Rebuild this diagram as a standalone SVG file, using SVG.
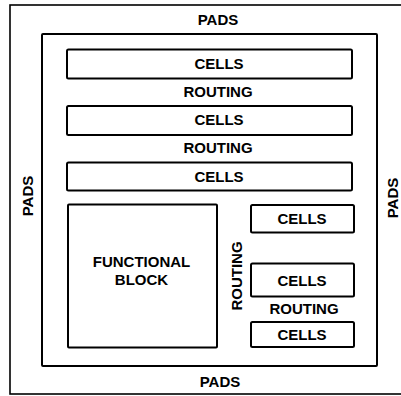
<svg xmlns="http://www.w3.org/2000/svg" width="401" height="396" viewBox="0 0 401 396">
<style>
.box{fill:none;stroke:#000;stroke-width:2}
.outer{fill:none;stroke:#000;stroke-width:1.6}
text{font-family:"Liberation Sans",Arial,sans-serif;font-weight:bold;font-size:15px;fill:#000;text-anchor:middle}
</style>
<rect width="401" height="396" fill="#fff"/>
<g id="chip">
<rect class="outer" x="10" y="5" width="395" height="389"/>
<text x="218" y="25">PADS</text>
<text x="220" y="386.5">PADS</text>
<text transform="translate(33,196) rotate(-90)">PADS</text>
<text transform="translate(398,198) rotate(-90)">PADS</text>
</g>
<g id="core">
<rect class="box" x="42" y="34" width="335" height="332" rx="1"/>
</g>
<g id="cells1">
<rect class="box" x="67" y="49.5" width="285" height="29" rx="1.5"/>
<text x="219" y="69">CELLS</text>
</g>
<text id="routing1" x="218" y="97">ROUTING</text>
<g id="cells2">
<rect class="box" x="67" y="106" width="285" height="29" rx="1.5"/>
<text x="219" y="125">CELLS</text>
</g>
<text id="routing2" x="218" y="153">ROUTING</text>
<g id="cells3">
<rect class="box" x="67" y="162.5" width="285" height="28" rx="1.5"/>
<text x="219" y="181.5">CELLS</text>
</g>
<g id="functional">
<rect class="box" x="68" y="204.5" width="149" height="143" rx="1"/>
<text x="141.5" y="267">FUNCTIONAL</text>
<text x="141.5" y="285">BLOCK</text>
</g>
<text id="routing3" transform="translate(241.5,276) rotate(-90)">ROUTING</text>
<g id="cells4">
<rect class="box" x="251" y="205" width="103" height="27.5" rx="1.5"/>
<text x="302" y="224">CELLS</text>
</g>
<g id="cells5">
<rect class="box" x="251" y="263.5" width="103" height="33" rx="1.5"/>
<text x="302" y="286">CELLS</text>
</g>
<text id="routing4" x="304" y="314">ROUTING</text>
<g id="cells6">
<rect class="box" x="251" y="322" width="103" height="25" rx="1.5"/>
<text x="302" y="340">CELLS</text>
</g>
<g id="connectors"/>
</svg>
